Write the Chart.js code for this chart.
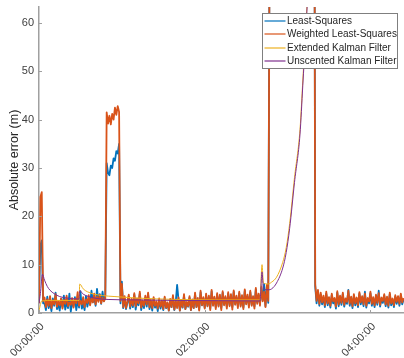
<!DOCTYPE html>
<html>
<head>
<meta charset="utf-8">
<script src="https://cdn.jsdelivr.net/npm/chart.js@4/dist/chart.umd.min.js"></script>
<style>
  body { margin: 0; background: #fff; }
  #chart { display: block; }
</style>
</head>
<body>
<canvas id="chart" width="404" height="358"></canvas>
<script>
// Least-squares family: one fix per minute, starting at 00:00:00
const fixStartMinute = 0;

const leastSquares = [
  3.0, 14.0, 15.0, 2.0, 2.0, 0.6, 3.4, 1.0, 2.2, 0.4,
  3.0, 1.5, 4.2, 0.8, 1.8, 0.5, 2.9, 1.2, 3.6, 0.7,
  2.3, 1.0, 4.0, 0.3, 2.1, 1.4, 3.3, 0.6, 2.6, 1.1,
  4.5, 0.9, 1.9, 0.6, 3.5, 1.3, 2.8, 1.8, 4.6, 2.2,
  3.3, 1.5, 5.0, 2.6, 3.9, 1.9, 4.4, 2.5, 3.6, 31.0,
  29.0, 28.5, 30.5, 30.0, 32.0, 31.5, 33.5, 33.0, 35.0, 2.0,
  6.5, 1.0, 3.0, 0.8, 2.1, 3.4, 0.9, 2.6, 1.2, 3.8,
  0.7, 2.5, 1.6, 4.0, 0.6, 2.2, 1.0, 3.2, 1.3, 3.9,
  0.8, 2.3, 0.5, 3.0, 1.1, 2.0, 0.4, 2.7, 0.9, 2.3,
  0.6, 3.1, 1.0, 2.0, 0.5, 2.6, 1.2, 3.4, 0.6, 2.2,
  5.8, 2.9, 0.5, 2.4, 1.1, 3.6, 0.8, 2.0, 1.3, 3.2,
  0.6, 2.5, 1.0, 3.9, 1.2, 2.8, 0.7, 4.3, 1.6, 3.0,
  1.1, 3.7, 1.4, 3.3, 0.9, 4.5, 1.7, 3.1, 1.2, 3.8,
  1.5, 3.5, 1.0, 4.2, 1.8, 3.2, 1.3, 4.0, 1.6, 3.6,
  1.2, 4.4, 1.9, 3.3, 1.4, 4.1, 1.6, 3.4, 1.1, 4.6,
  2.0, 3.5, 1.5, 4.3, 1.7, 3.2, 1.3, 4.9, 2.2, 3.7,
  1.8, 5.2, 2.6, 6.0, 1.4, 5.5, 2.1, 82, 98, 106,
  112, 115, 124, 122, 133, 126, 138, 137, 141, 143,
  152, 146, 157, 158, 161, 163, 172, 166, 177, 178,
  181, 183, 192, 186, 197, 198, 201, 203, 212, 158,
  5.5, 2.0, 4.4, 1.5, 3.8, 1.8, 3.2, 1.2, 4.0, 1.6,
  3.0, 1.1, 3.7, 2.0, 2.8, 0.9, 4.2, 1.4, 3.3, 1.7,
  3.9, 1.3, 2.7, 1.9, 4.8, 1.5, 3.1, 1.0, 3.6, 1.6,
  2.9, 1.2, 4.0, 1.8, 3.2, 1.4, 4.4, 1.1, 2.8, 2.0,
  4.1, 1.5, 3.0, 1.2, 3.5, 1.7, 4.6, 1.3, 2.9, 2.1,
  3.6, 1.4, 3.1, 1.1, 3.9, 1.6, 2.7, 1.2, 3.4, 1.9,
  3.2, 1.5, 3.7, 1.8, 2.8,
];

const weightedLeastSquares = [
  2.0, 24.0, 25.0, 2.5, 3.2, 1.2, 2.8, 1.5, 3.5, 1.0,
  2.6, 1.8, 3.9, 1.3, 2.4, 1.6, 3.0, 0.9, 2.7, 1.9,
  3.6, 1.4, 2.2, 1.7, 3.1, 1.1, 2.9, 2.0, 4.3, 1.5,
  2.5, 1.8, 3.3, 1.2, 2.8, 2.1, 3.7, 1.6, 3.0, 2.2,
  4.0, 1.8, 3.4, 2.3, 3.8, 2.0, 3.2, 2.4, 3.0, 41.5,
  39.2, 40.8, 39.0, 41.2, 40.0, 42.5, 41.0, 42.8, 41.6, 2.5,
  6.0, 1.2, 3.5, 1.0, 2.4, 3.8, 1.3, 2.9, 1.6, 4.1,
  1.4, 3.0, 2.0, 4.4, 1.1, 2.6, 1.5, 3.6, 1.8, 4.2,
  1.2, 2.7, 1.0, 3.3, 1.5, 2.4, 0.9, 3.0, 1.3, 2.6,
  0.8, 3.4, 1.1, 2.2, 0.5, 2.9, 1.2, 3.7, 0.7, 2.5,
  1.0, 3.2, 0.5, 2.7, 1.2, 3.9, 0.8, 2.3, 1.4, 3.5,
  0.6, 2.8, 1.0, 4.2, 1.2, 3.1, 0.5, 4.6, 1.6, 3.3,
  0.9, 4.0, 1.4, 3.6, 0.6, 4.8, 1.5, 3.4, 0.8, 4.1,
  1.3, 3.8, 0.6, 4.5, 1.6, 3.5, 0.9, 4.3, 1.4, 3.9,
  0.7, 4.7, 1.7, 3.6, 1.0, 4.4, 1.3, 3.7, 0.8, 4.9,
  1.8, 3.8, 1.1, 4.6, 1.5, 3.5, 0.9, 5.2, 1.9, 4.0,
  1.5, 5.5, 2.4, 4.4, 1.2, 5.8, 2.5, 78, 95, 104,
  110, 118, 121, 125, 130, 128, 135, 140, 138, 145,
  150, 148, 155, 160, 158, 165, 170, 168, 175, 180,
  178, 185, 190, 188, 195, 200, 198, 205, 210, 160,
  6.0, 2.5, 4.8, 1.9, 4.2, 2.2, 3.6, 1.6, 4.4, 2.0,
  3.3, 1.5, 4.0, 2.4, 3.1, 1.3, 4.5, 1.8, 3.6, 2.1,
  4.2, 1.7, 3.0, 2.3, 4.6, 1.9, 3.4, 1.4, 3.9, 2.0,
  3.2, 1.6, 4.3, 2.2, 3.5, 1.8, 4.0, 1.5, 3.1, 2.4,
  4.4, 1.9, 3.3, 1.6, 3.8, 2.1, 4.1, 1.7, 3.2, 2.5,
  3.9, 1.8, 3.4, 1.5, 4.2, 2.0, 3.0, 1.6, 3.7, 2.3,
  3.5, 1.9, 4.0, 2.2, 3.1,
];

// Kalman filters: smooth curves, sampled where they bend
const ekfMinutes = [0, 2, 10, 28, 29, 29.5, 32, 35, 40, 46, 55, 70, 100, 130, 160, 161.5, 162.5, 166, 168.5, 172, 176.5, 179, 181.5, 185, 189, 191, 193, 195, 200, 220, 264];
const ekfError = [0.5, 2.5, 2.6, 2.6, 2.6, 6.0, 5.0, 4.4, 3.9, 3.6, 3.4, 3.1, 2.8, 2.7, 2.7, 10.0, 6.2, 6.0, 6.4, 7.4, 10.5, 13.5, 18.5, 28, 38, 48, 58, 69, 96, 182, 405];

const ukfMinutes = [0, 1, 2.5, 4, 6, 8, 11, 15, 20, 28, 29, 29.5, 32, 36, 42, 50, 70, 100, 130, 160, 161.5, 162.5, 166, 168.5, 172, 176.5, 179, 181.5, 185, 189, 191, 193, 195, 200, 220, 264];
const ukfError = [2.0, 4.0, 8.0, 6.8, 5.5, 4.7, 4.0, 3.4, 3.1, 2.9, 2.9, 4.6, 3.9, 3.4, 3.0, 2.8, 2.7, 2.6, 2.55, 2.5, 8.5, 5.0, 4.8, 5.0, 6.2, 9.3, 12.5, 17.5, 27, 37, 47, 57, 68, 95, 180, 400];

const seriesLabels = ["Least-Squares", "Weighted Least-Squares", "Extended Kalman Filter", "Unscented Kalman Filter"];
const seriesColors = ["#0072BD", "#D95319", "#EDB120", "#7E2F8E"];
const xTickMinutes = [0, 120, 240];
const yTickValues = [0, 10, 20, 30, 40, 50, 60];

const axisColor = "#a0a0a0";
const textColor = "#404040";
const fontFamily = "'Liberation Sans', Arial, sans-serif";

function perMinute(values) {
  return values.map((v, i) => ({ x: fixStartMinute + i, y: v }));
}

function pairUp(xs, ys) {
  return xs.map((x, i) => ({ x, y: ys[i] }));
}

function formatClock(minutes) {
  const pad = (n) => String(n).padStart(2, "0");
  return `${pad(Math.floor(minutes / 60))}:${pad(minutes % 60)}:00`;
}

const insideTicks = {
  id: "insideTicks",
  afterDatasetsDraw(chart) {
    const { ctx, chartArea, scales } = chart;
    ctx.save();
    ctx.strokeStyle = axisColor;
    ctx.lineWidth = 1;
    ctx.beginPath();
    scales.x.ticks.forEach((t) => {
      const px = Math.round(scales.x.getPixelForValue(t.value)) + 0.5;
      ctx.moveTo(px, chartArea.bottom);
      ctx.lineTo(px, chartArea.bottom - 3);
    });
    scales.y.ticks.forEach((t) => {
      const py = Math.round(scales.y.getPixelForValue(t.value)) + 0.5;
      ctx.moveTo(chartArea.left, py);
      ctx.lineTo(chartArea.left + 3, py);
    });
    ctx.stroke();
    ctx.restore();
  },
};

const boxedLegend = {
  id: "boxedLegend",
  afterDraw(chart) {
    const { ctx } = chart;
    const left = 262.5, top = 13.5, width = 135, height = 55, rowGap = 13.5;
    ctx.save();
    ctx.fillStyle = "#fff";
    ctx.fillRect(left, top, width, height);
    ctx.strokeStyle = "#7f7f7f";
    ctx.lineWidth = 1;
    ctx.strokeRect(left, top, width, height);
    ctx.font = `10px ${fontFamily}`;
    ctx.textBaseline = "middle";
    seriesLabels.forEach((label, i) => {
      const y = Math.round(top + 7 + i * rowGap);
      ctx.strokeStyle = seriesColors[i];
      ctx.lineWidth = 1.2;
      ctx.beginPath();
      ctx.moveTo(left + 2, y);
      ctx.lineTo(left + 23, y);
      ctx.stroke();
      ctx.fillStyle = "#262626";
      ctx.fillText(label, left + 24.5, y + 0.5);
    });
    ctx.restore();
  },
};

new Chart(document.getElementById("chart"), {
  type: "line",
  data: {
    datasets: [
      { label: seriesLabels[0], data: perMinute(leastSquares), borderColor: seriesColors[0], borderWidth: 1.8, order: 4 },
      { label: seriesLabels[1], data: perMinute(weightedLeastSquares), borderColor: seriesColors[1], borderWidth: 1.8, order: 3 },
      { label: seriesLabels[2], data: pairUp(ekfMinutes, ekfError), borderColor: seriesColors[2], borderWidth: 1, order: 2, cubicInterpolationMode: "monotone" },
      { label: seriesLabels[3], data: pairUp(ukfMinutes, ukfError), borderColor: seriesColors[3], borderWidth: 1, order: 1, cubicInterpolationMode: "monotone" },
    ],
  },
  options: {
    responsive: false,
    animation: false,
    events: [],
    layout: { padding: { top: 7, right: 0, left: 0, bottom: 0 } },
    elements: { point: { radius: 0 }, line: { tension: 0, fill: false, borderJoinStyle: "round" } },
    plugins: { legend: { display: false }, tooltip: { enabled: false } },
    scales: {
      x: {
        type: "linear",
        min: 0,
        max: 264.3,
        afterBuildTicks: (scale) => {
          scale.ticks = xTickMinutes.map((v) => ({ value: v }));
        },
        afterFit: (scale) => {
          scale.height = 45;
          scale.paddingLeft = 0;
          scale.paddingRight = 0;
        },
        grid: { display: false, drawTicks: false },
        border: { display: true, color: axisColor, width: 1.5 },
        ticks: {
          minRotation: 45,
          maxRotation: 45,
          padding: 7,
          labelOffset: 3.5,
          color: textColor,
          font: { family: fontFamily, size: 11 },
          callback: (v) => formatClock(v),
        },
      },
      y: {
        min: 0,
        max: 63.3,
        afterBuildTicks: (scale) => {
          scale.ticks = yTickValues.map((v) => ({ value: v }));
        },
        afterFit: (scale) => {
          scale.width = 39;
          scale.paddingTop = 0;
          scale.paddingBottom = 0;
        },
        grid: { display: false, drawTicks: false },
        border: { display: true, color: axisColor, width: 1.5 },
        ticks: {
          padding: 5,
          color: textColor,
          font: { family: fontFamily, size: 11 },
        },
        title: {
          display: true,
          text: "Absolute error (m)",
          color: "#262626",
          padding: { top: 7, bottom: 0 },
          font: { family: fontFamily, size: 12.5 },
        },
      },
    },
  },
  plugins: [insideTicks, boxedLegend],
});
</script>
</body>
</html>
